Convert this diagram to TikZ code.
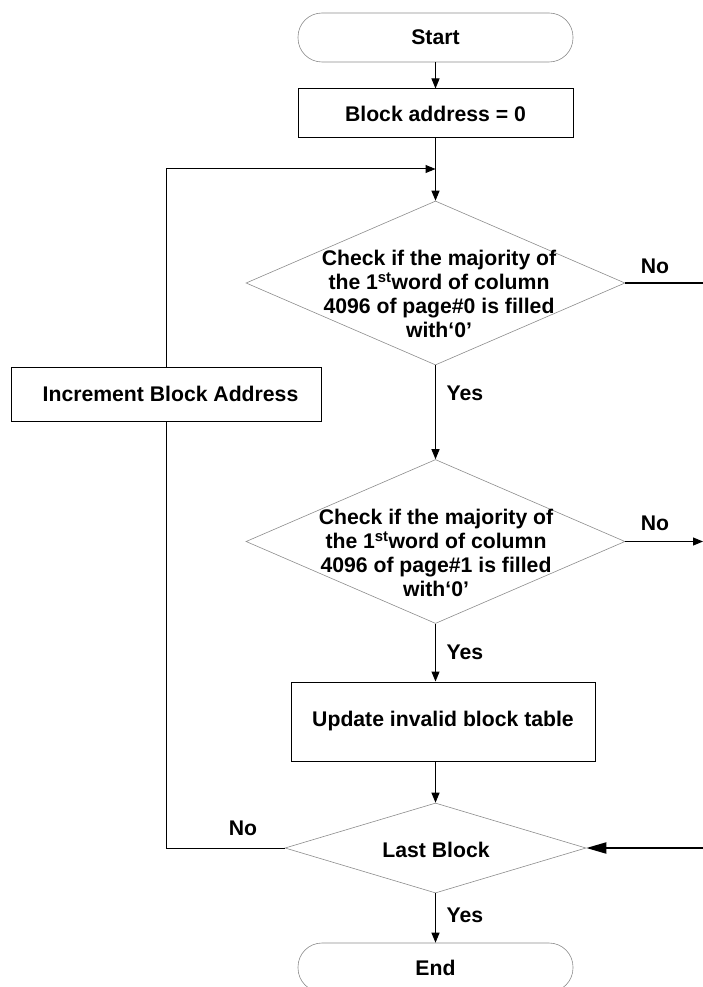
\documentclass[tikz,border=0pt]{standalone}
\usepackage{fontspec}
\setmainfont{Liberation Sans}
\usetikzlibrary{shapes.geometric,arrows.meta}
\tikzset{
  txt/.style={font=\fontsize{21.2}{23.8}\selectfont\bfseries, align=center, inner sep=0pt},
  term/.style={draw=black!45, line width=0.6pt, rounded corners=24pt, minimum width=275pt, minimum height=49pt, inner sep=0pt, txt},
  procbox/.style={draw=black, line width=1pt, inner sep=0pt, txt},
  dia/.style={draw=black!45, line width=0.6pt, shape=diamond, inner sep=0pt},
  conn/.style={line width=1pt, -{Triangle[length=10pt,width=8pt]}},
  plain/.style={line width=1pt},
  heavy/.style={line width=2pt}
}
\begin{document}
\begin{tikzpicture}[x=1pt,y=-1pt]
\useasboundingbox (0,0) rectangle (703,987);
\clip (0,0) rectangle (703,987);
% nodes
\node[term] (start) at (435.5,37.5) {Start};
\node[procbox, minimum width=275pt, minimum height=49pt] (ba) at (435.5,113.5) {Block address = 0};
\node[dia, minimum width=379pt, minimum height=164pt] (d1) at (435.5,283) {};
\node[txt] (t1) at (439,294) {Check if the majority of\\the 1\textsuperscript{st}word of column\\4096 of page\#0 is filled\\with‘0’};
\node[procbox, minimum width=310pt, minimum height=54pt] (inc) at (166,394) {\hspace*{9pt}Increment Block Address};
\node[dia, minimum width=379pt, minimum height=164pt] (d2) at (435.5,541.5) {};
\node[txt] (t2) at (436,553) {Check if the majority of\\the 1\textsuperscript{st}word of column\\4096 of page\#1 is filled\\with‘0’};
\node[procbox, minimum width=304pt, minimum height=79pt] (upd) at (443,721.5) {Update invalid block table};
\node[dia, minimum width=301pt, minimum height=90pt] (lb) at (435.5,848) {};
\node[txt] (t3) at (436,850) {Last Block};
\node[term] (end) at (435.5,967.5) {End};
% labels
\node[txt] (no1) at (655,266) {No};
\node[txt] (no2) at (655,523) {No};
\node[txt] (no3) at (243,828) {No};
\node[txt] (yes1) at (465,393) {Yes};
\node[txt] (yes2) at (465,652) {Yes};
\node[txt] (yes3) at (465,915) {Yes};
% free ends
\coordinate (join) at (435.5,169);
\coordinate (r1) at (703,283);
\coordinate (r2) at (703,541.5);
\coordinate (r3) at (703,848);
% connectors
\draw[conn] (start.south) -- (ba.north);
\draw[conn] (ba.south) -- (d1.north);
\draw[conn] (inc.north) |- (join);
\draw[heavy] (d1.east) -- (r1);
\draw[conn] (d1.south) -- (d2.north);
\draw[conn] (d2.east) -- (r2);
\draw[conn] (d2.south) -- (upd.north -| d2.south);
\draw[conn] (upd.south -| lb.north) -- (lb.north);
\draw[plain] (lb.west) -| (inc.south);
\draw[heavy, -{Triangle[length=20pt,width=11pt]}] (r3) -- (lb.east);
\draw[conn] (lb.south) -- (end.north);
\end{tikzpicture}
\end{document}
